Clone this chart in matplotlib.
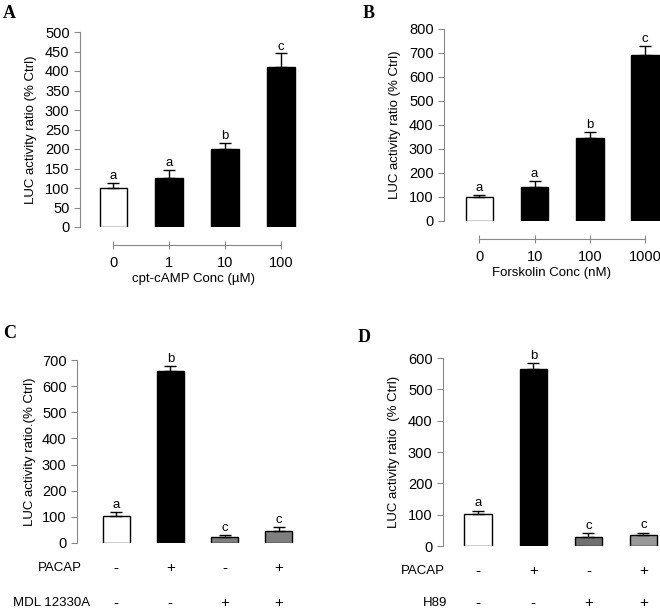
import numpy as np
import matplotlib
matplotlib.use("Agg")
import matplotlib.pyplot as plt

plt.rcParams['font.family'] = ['Liberation Sans', 'DejaVu Sans']

# panel A
a_labels = ["0", "1", "10", "100"]
a_vals = [100, 125, 200, 410]
a_err = [13, 22, 15, 35]
a_sig = ["a", "a", "b", "c"]

# panel B
b_labels = ["0", "10", "100", "1000"]
b_vals = [100, 140, 345, 693]
b_err = [8, 25, 25, 37]
b_sig = ["a", "a", "b", "c"]

# panel C
c_vals = [102, 657, 22, 45]
c_err = [15, 20, 10, 15]
c_sig = ["a", "b", "c", "c"]
c_pacap = ["-", "+", "-", "+"]
c_mdl = ["-", "-", "+", "+"]

# panel D
d_vals = [103, 565, 28, 35]
d_err = [10, 18, 13, 8]
d_sig = ["a", "b", "c", "c"]
d_pacap = ["-", "+", "-", "+"]
d_h89 = ["-", "-", "+", "+"]

W, H = 660, 611
fig = plt.figure(figsize=(W / 100, H / 100), dpi=100)
TICK = 10.5


def px_axes(x0, x1, y_top, y_bot):
    return fig.add_axes([x0 / W, 1 - y_bot / H, (x1 - x0) / W, (y_bot - y_top) / H])


def bars(ax, vals, err, sig, colors, ymax, ystep, sigoff):
    x = np.arange(len(vals))
    ax.bar(x, vals, width=0.5, color=colors, edgecolor="black", linewidth=1.0, zorder=2)
    ax.errorbar(x, vals, yerr=[np.zeros(len(err)), err], fmt="none", ecolor="black",
                elinewidth=1.0, capsize=4, capthick=1.0, zorder=3)
    for xi, v, e, s in zip(x, vals, err, sig):
        ax.text(xi, v + e + sigoff, s, ha="center", va="bottom", fontsize=9.5)
    ax.set_ylim(0, ymax)
    ax.set_yticks(np.arange(0, ymax + 1, ystep))
    ax.spines[["top", "right"]].set_visible(False)
    ax.spines["left"].set_color("#888888")
    ax.spines["left"].set_bounds(0, ymax)
    ax.tick_params(axis="y", colors="#888888", labelcolor="black", labelsize=TICK, length=4)
    return x


def offset_xaxis(ax, x, labels, xlabel):
    ax.spines["bottom"].set_position(("outward", 13))
    ax.spines["bottom"].set_color("#888888")
    ax.spines["bottom"].set_bounds(x[0], x[-1])
    ax.set_xticks(x)
    ax.set_xticklabels(labels)
    ax.tick_params(axis="x", colors="#888888", labelcolor="black", labelsize=TICK,
                   length=6, direction="inout", pad=5)
    ax.set_xlabel(xlabel, fontsize=9.5, labelpad=2)


def row(ax, x, signs, ypx):
    # labels under the bars: x in data, y in figure pixels
    tr = ax.get_xaxis_transform()
    for xi, s in zip(x, signs):
        ax.annotate(s, (xi, 0), xycoords=tr, xytext=(xi, 1 - ypx / H),
                    textcoords=("data", "figure fraction"),
                    ha="center", va="center", fontsize=11)


# A
axA = px_axes(80, 306, 32, 227)
x = bars(axA, a_vals, a_err, a_sig, ["white", "black", "black", "black"], 500, 50, 2)
axA.set_xlim(-0.6, 3.45)
offset_xaxis(axA, x, a_labels, "cpt-cAMP Conc (\u00b5M)")
axA.set_ylabel("LUC activity ratio (% Ctrl)", fontsize=9.5, labelpad=6)

# B
axB = px_axes(444, 660, 29, 221)
x = bars(axB, b_vals, b_err, b_sig, ["white", "black", "black", "black"], 800, 100, 4)
axB.set_xlim(-0.64, 3.27)
offset_xaxis(axB, x, b_labels, "Forskolin Conc (nM)")
axB.set_ylabel("LUC activity ratio (% Ctrl)", fontsize=9.5, labelpad=6)

# C
axC = px_axes(77, 306, 360, 543)
x = bars(axC, c_vals, c_err, c_sig, ["white", "black", "#7f7f7f", "#7f7f7f"], 700, 100, 4)
axC.set_xlim(-0.72, 3.5)
axC.spines["bottom"].set_visible(False)
axC.set_xticks([])
axC.set_ylabel("LUC activity ratio.(% Ctrl)", fontsize=9.5, labelpad=4)
row(axC, x, c_pacap, 568)
row(axC, x, c_mdl, 603)
fig.text(82 / W, 1 - 568 / H, "PACAP", ha="right", va="center", fontsize=9.5)
fig.text(90 / W, 1 - 603 / H, "MDL 12330A", ha="right", va="center", fontsize=9.5)

# D
axD = px_axes(443, 660, 358, 546)
x = bars(axD, d_vals, d_err, d_sig, ["white", "black", "#707070", "#999999"], 600, 100, 4)
axD.set_xlim(-0.64, 3.3)
axD.spines["bottom"].set_visible(False)
axD.set_xticks([])
axD.set_ylabel("LUC activity ratio  (% Ctrl)", fontsize=9.5, labelpad=6)
row(axD, x, d_pacap, 571)
row(axD, x, d_h89, 603)
fig.text(445 / W, 1 - 571 / H, "PACAP", ha="right", va="center", fontsize=9.5)
fig.text(447 / W, 1 - 603 / H, "H89", ha="right", va="center", fontsize=9.5)

for lab, (px, py) in zip("ABCD", [(3, 13), (363, 13), (3, 333), (358, 337)]):
    fig.text(px / W, 1 - py / H, lab, fontsize=13, fontweight="bold",
             family="Liberation Serif", va="center", ha="left")

fig.savefig("out.png", dpi=100)
